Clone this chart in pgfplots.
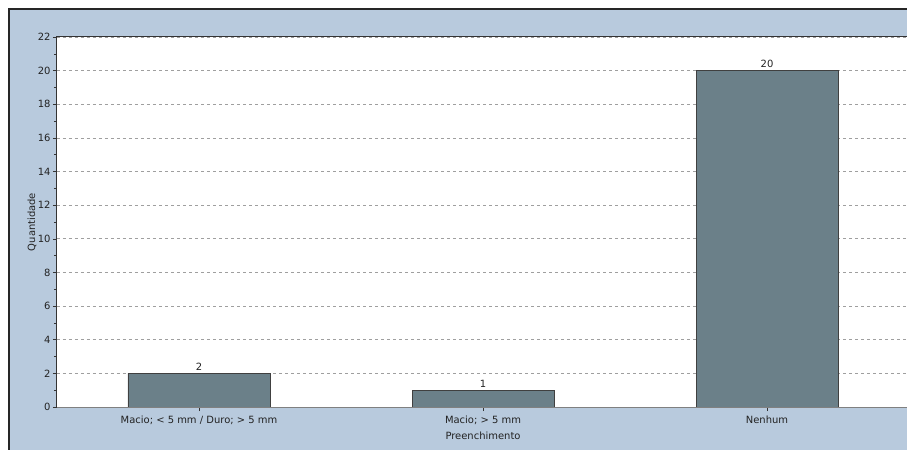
\documentclass[border=0pt]{standalone}
\usepackage{pgfplots}
\pgfplotsset{compat=1.18}
\usepackage{fontspec}
\setmainfont{DejaVu Sans}
\definecolor{bgblue}{HTML}{B8CADD}
\definecolor{barcol}{HTML}{6B8089}
\definecolor{txt}{HTML}{222222}
\begin{document}
\begin{tikzpicture}
\useasboundingbox (-57bp,-43bp) rectangle (850bp,407bp);
\fill[white] (-57bp,-43bp) rectangle (850bp,407bp);
\fill[bgblue] (-48bp,-43bp) rectangle (851bp,398bp);
\draw[black!85, line width=2bp] (-48bp,-44bp) -- (-48bp,398bp) -- (851bp,398bp);
\begin{axis}[
  at={(0,0)}, anchor=south west,
  scale only axis,
  width=852bp, height=370bp,
  xmin=-0.5, xmax=2.5,
  ymin=0, ymax=22,
  ybar, bar width=0.5,
  /pgf/number format/assume math mode=true,
  axis background/.style={fill=white},
  axis line style={draw=none},
  xtick=data,
  xticklabels={{Macio; < 5 mm / Duro; > 5 mm},{Macio; > 5 mm},{Nenhum}},
  ytick={0,2,...,22},
  minor ytick={1,3,...,21},
  ytick pos=left, xtick pos=bottom,
  tick align=outside,
  major tick length=4bp,
  minor tick length=3bp,
  tick style={black!80, line width=0.6bp},
  ymajorgrids,
  major grid style={gray!75, line width=0.7bp, dash pattern=on 3bp off 3bp},
  ticklabel style={font=\fontsize{10}{12}\selectfont, text=txt},
  yticklabel style={xshift=1bp},
  xticklabel style={yshift=-1bp},
  label style={font=\fontsize{10}{12}\selectfont, text=txt},
  xlabel={Preenchimento},
  ylabel={Quantidade},
  xlabel style={at={(axis description cs:0.5,-0.0784)}, anchor=center},
  ylabel style={at={(axis description cs:-0.0293,0.5)}, anchor=center},
  nodes near coords,
  nodes near coords style={font=\fontsize{10}{12}\selectfont, text=txt, yshift=-1bp},
  clip=false,
]
\addplot[fill=barcol, draw=black!75, line width=0.8bp] coordinates {(0,2) (1,1) (2,20)};
\draw[black!80, line width=1bp] (rel axis cs:0,0) -- (rel axis cs:0,1) -- (rel axis cs:1,1);
\draw[gray, line width=1bp] (rel axis cs:0,0) -- (rel axis cs:1,0);
\end{axis}
\end{tikzpicture}
\end{document}
